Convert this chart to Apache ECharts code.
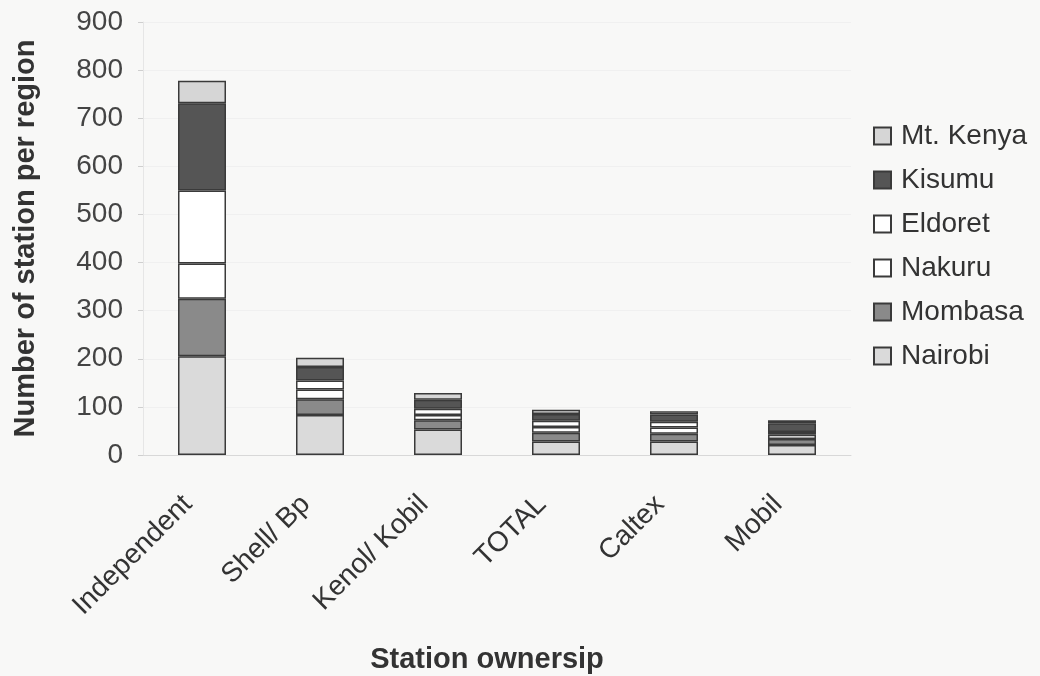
<!DOCTYPE html>
<html>
<head>
<meta charset="utf-8">
<script src="https://cdn.jsdelivr.net/npm/echarts@6/dist/echarts.min.js"></script>
<style>
  html, body { margin: 0; padding: 0; background: #f8f8f7; }
  #chart { width: 1040px; height: 676px; }
</style>
</head>
<body>
<div id="chart"></div>
<script>
// categories (station ownership)
var owners = ["Independent", "Shell/ Bp", "Kenol/ Kobil", "TOTAL", "Caltex", "Mobil"];

// stations per region, bottom to top of each stack
var nairobi  = [205, 83, 53, 28, 28, 21];
var mombasa  = [120, 33, 19, 18, 16, 12];
var nakuru   = [73, 20, 11, 12, 13, 9];
var eldoret  = [152, 19, 13, 13, 12, 6];
var kisumu   = [181, 28, 19, 14, 15, 18];
var mtKenya  = [47, 19, 14, 9, 7, 6];

var yTicks = [0, 100, 200, 300, 400, 500, 600, 700, 800, 900];

var chart = echarts.init(document.getElementById("chart"));

//one stacked bar series
function layer(name, data, color) {
    return {
        name: name,
        type: "bar",
        stack: "all",
        barWidth: 48,
        data: data,
        itemStyle: { color: color, borderColor: "#3a3a3a", borderWidth: 1.5 }
    };
}

var font = "Liberation Sans, Arial, sans-serif";

chart.setOption({
    backgroundColor: "#f8f8f7",
    animation: false,
    grid: { left: 143, top: 22, width: 708, height: 433, outerBoundsMode: "none", containLabel: false },
    legend: {
        orient: "vertical",
        left: 868,
        top: 117,
        itemGap: 16,
        itemWidth: 17,
        itemHeight: 17,
        icon: "rect",
        data: ["Mt. Kenya", "Kisumu", "Eldoret", "Nakuru", "Mombasa", "Nairobi"],
        textStyle: { fontFamily: font, fontSize: 28, color: "#333", padding: [0, 0, 0, 5] }
    },
    xAxis: {
        type: "category",
        data: owners,
        axisLine: { lineStyle: { color: "#d8d8d8" } },
        axisTick: { show: false },
        axisLabel: { rotate: 45, fontFamily: font, fontSize: 28, color: "#333", margin: 31, padding: [0, 20, 0, 0] },
        name: "Station ownersip",
        nameLocation: "middle",
        nameGap: 190,
        nameTextStyle: { fontFamily: font, fontSize: 29, fontWeight: "bold", color: "#333", padding: [0, 20, 0, 0] }
    },
    yAxis: {
        type: "value",
        min: yTicks[0],
        max: yTicks[yTicks.length - 1],
        interval: 100,
        axisLine: { show: true, lineStyle: { color: "#e6e6e6" } },
        axisTick: { show: true, length: 5, lineStyle: { color: "#cfcfcf" } },
        splitLine: { lineStyle: { color: "#f0f0f0" } },
        axisLabel: { fontFamily: font, fontSize: 28, color: "#444", margin: 20 },
        name: "Number of station per region",
        nameLocation: "middle",
        nameGap: 103,
        nameTextStyle: { fontFamily: font, fontSize: 29, fontWeight: "bold", color: "#333" }
    },
    series: [
        layer("Nairobi", nairobi, "#dadada"),
        layer("Mombasa", mombasa, "#8a8a8a"),
        layer("Nakuru", nakuru, "#ffffff"),
        layer("Eldoret", eldoret, "#ffffff"),
        layer("Kisumu", kisumu, "#555555"),
        layer("Mt. Kenya", mtKenya, "#d6d6d6")
    ]
});
</script>
</body>
</html>
